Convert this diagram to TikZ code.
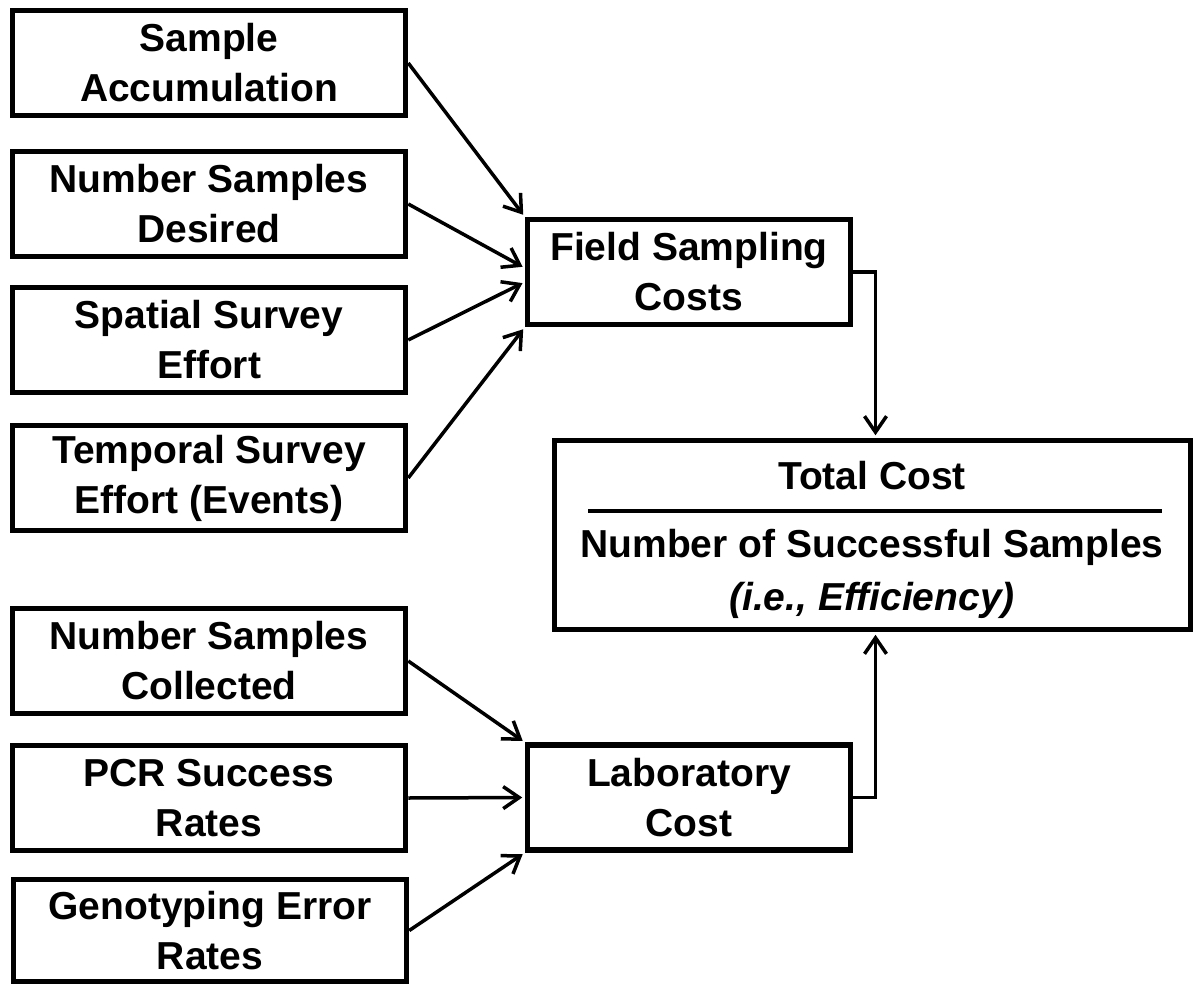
\documentclass[tikz,border=0pt]{standalone}
\usepackage{fontspec}
\setmainfont{Liberation Sans}
\usetikzlibrary{arrows.meta}

\begin{document}
\begin{tikzpicture}[x=1pt, y=-1pt,
    box/.style={draw, line width=5.5pt, inner sep=0pt, align=center,
        minimum width=393pt, minimum height=105pt,
        font=\fontsize{39}{50}\selectfont\bfseries},
    costbox/.style={box, minimum width=323pt},
    label/.style={anchor=base, inner sep=0pt, font=\fontsize{39}{50}\selectfont\bfseries},
    link/.style={line width=3.5pt, -{Straight Barb[length=16pt, width=22pt]}, shorten >=2.5pt}]
    \useasboundingbox (0,0) rectangle (1193,984);

    \node[box] (acc) at (209,63) {Sample\\Accumulation};
    \node[box] (desired) at (209,204) {Number Samples\\Desired};
    \node[box] (spatial) at (209,340) {Spatial Survey\\Effort};
    \node[box] (temporal) at (209,478) {Temporal Survey\\Effort (Events)};
    \node[box] (collected) at (209,661) {Number Samples\\Collected};
    \node[box] (pcr) at (209,798) {PCR Success\\Rates};
    \node[box, minimum height=102pt] (geno) at (210,930.5) {Genotyping Error\\Rates};

    \node[costbox] (field) at (689,272) {Field Sampling\\Costs};
    \node[costbox] (lab) at (689,797.5) {Laboratory\\Cost};

    % efficiency box with the ratio inside
    \node[box, minimum width=636pt, minimum height=189pt] (total) at (872.5,535) {};
    \node[label] (num) at (872,489) {Total Cost};
    \node[label] (den) at (872,557) {Number of Successful Samples};
    \node[label] (note) at (872,610) {\itshape (i.e., Efficiency)};
    \draw [line width=4pt] (588,511) -- (1162,511);

    \draw [link] (acc.east) -- (field.north west);
    \draw [link] (desired.east) -- ([yshift=4pt]field.west);
    \draw [link] (spatial.east) -- ([yshift=-10pt]field.west);
    \draw [link] (temporal.east) -- (field.south west);
    \draw [link] (collected.east) -- (lab.north west);
    \draw [link] (pcr.east) -- (lab.west);
    \draw [link] (geno.east) -- (lab.south west);
    \draw [link] (field.east) -| ([xshift=3pt]total.north);
    \draw [link] (lab.east) -| ([xshift=3pt]total.south);
\end{tikzpicture}
\end{document}
